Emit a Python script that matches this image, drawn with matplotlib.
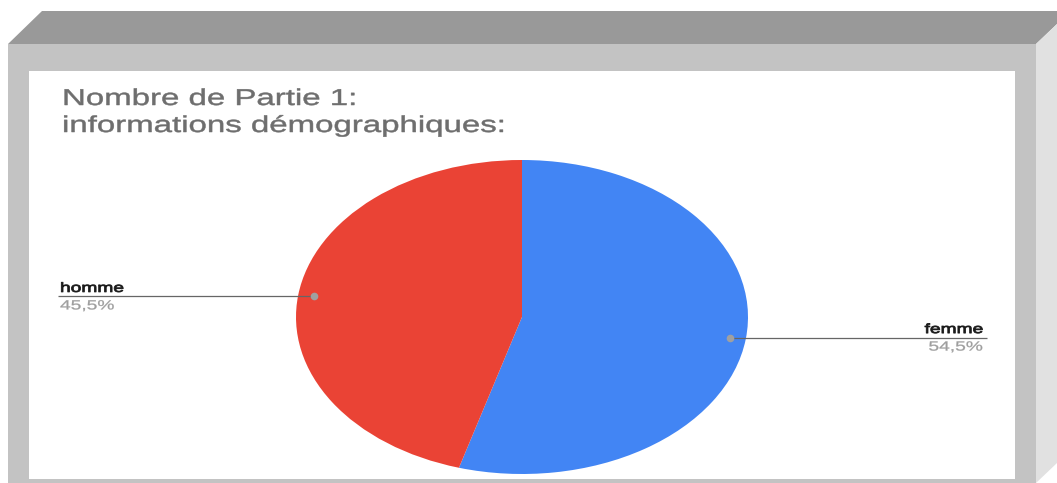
import matplotlib
matplotlib.use('Agg')
import matplotlib.pyplot as plt
import numpy as np
from matplotlib.patheffects import AbstractPathEffect
from matplotlib.transforms import Affine2D
from matplotlib.patches import Polygon, Rectangle

# ---- data ----
categories = ['femme', 'homme']
values = [54.5, 45.5]
colors = ['#4285F4', '#EA4335']
title_lines = ['Nombre de Partie 1:', 'informations démographiques:']

plt.rcParams['font.family'] = ['Liberation Sans', 'DejaVu Sans']

W, H = 1057, 483
fig = plt.figure(figsize=(W / 100, H / 100), dpi=100)


class Stretch(AbstractPathEffect):
    """Widen glyphs horizontally (the source screenshot is stretched),
    optionally thickening strokes a little."""
    def __init__(self, sx, anchor='left', stroke=0.0):
        super().__init__()
        self.sx = sx
        self.anchor = anchor
        self.stroke = stroke

    def draw_path(self, renderer, gc, tpath, affine, rgbFace=None):
        x0 = tpath.get_extents().x1 if self.anchor == 'right' else 0.0
        t = Affine2D().translate(-x0, 0).scale(self.sx, 1).translate(x0, 0) + affine
        gc0 = renderer.new_gc()
        gc0.copy_properties(gc)
        if self.stroke > 0 and rgbFace is not None:
            gc0.set_linewidth(self.stroke)
            gc0.set_foreground(rgbFace)
            gc0.set_joinstyle('round')
        renderer.draw_path(gc0, tpath, t, rgbFace)
        gc0.restore()


SX = 1.44

# ---- frame (pixel coordinates) ----
bg = fig.add_axes([0, 0, 1, 1], zorder=0)
bg.set_xlim(0, W)
bg.set_ylim(H, 0)
bg.axis('off')
bg.add_patch(Polygon([(8, 44), (42, 11), (W, 11), (W, 24), (1036, 44)],
                     closed=True, fc='#999999', ec='none'))
bg.add_patch(Rectangle((8, 44), 1028, 439, fc='#c3c3c3', ec='none'))
bg.add_patch(Polygon([(1036, 44), (W, 24), (W, 463), (1036, 483)],
                     closed=True, fc='#e1e1e1', ec='none'))
bg.add_patch(Rectangle((29, 71), 986, 408, fc='white', ec='none'))

# ---- pie ----
ax = fig.add_axes([296 / W, (H - 474) / H, 452 / W, 314 / H], zorder=1)
wedges, _ = ax.pie(values, colors=colors, startangle=90, counterclock=False,
                   radius=1.0, wedgeprops=dict(linewidth=0))
ax.set_aspect('auto')
ax.set_xlim(-1, 1)
ax.set_ylim(-1, 1)
ax.axis('off')

# ---- overlay: labels, leader lines, title ----
ov = fig.add_axes([0, 0, 1, 1], zorder=2)
ov.set_xlim(0, W)
ov.set_ylim(H, 0)
ov.axis('off')

for w, cat, val in zip(wedges, categories, values):
    mid = np.deg2rad((w.theta1 + w.theta2) / 2)
    dx, dy = 0.93 * np.cos(mid), 0.93 * np.sin(mid)
    px, py = ax.transData.transform((dx, dy))
    py = H - py
    right = np.cos(mid) > 0
    xend = 987 if right else 58
    ov.plot([px, xend], [py, py], color='#666666', lw=0.9, solid_capstyle='butt')
    ov.plot(px, py, 'o', ms=5.5, color='#a0a0a0', mec='none')
    pct = f"{val:.1f}".replace('.', ',') + '%'
    xt, ha = (983, 'right') if right else (60, 'left')
    anchor = 'right' if right else 'left'
    ov.text(xt, py - 4.5, cat, ha=ha, va='baseline', fontsize=9.6,
            color='#1a1a1a', path_effects=[Stretch(SX, anchor, stroke=0.6)])
    ov.text(xt, py + 4, pct, ha=ha, va='top', fontsize=9.6,
            color='#9e9e9e', path_effects=[Stretch(SX, anchor, stroke=0.2)])

for i, line in enumerate(title_lines):
    ov.text(62, 105 + 27 * i, line, fontsize=16.5, color='#6e6e6e',
            ha='left', va='baseline', path_effects=[Stretch(SX, 'left', stroke=0.35)])

fig.savefig('out.png', dpi=100)
